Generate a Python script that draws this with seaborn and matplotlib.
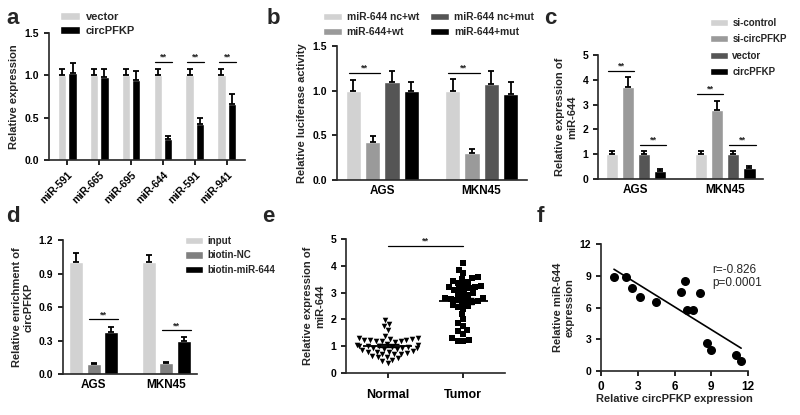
import numpy as np
import pandas as pd
import matplotlib
matplotlib.use("Agg")
import matplotlib.pyplot as plt
import seaborn as sns

# =========================
# Datos
# =========================
# (a) expresión relativa de miRNAs
a_labels = ["miR-591", "miR-665", "miR-695", "miR-644", "miR-591", "miR-941"]
a_vector = [1.0, 1.0, 1.0, 1.0, 1.0, 1.0]
a_vector_err = [0.08, 0.07, 0.08, 0.07, 0.08, 0.07]
a_circ = [1.03, 0.98, 0.95, 0.25, 0.43, 0.66]
a_circ_err = [0.11, 0.09, 0.10, 0.03, 0.07, 0.12]

# (b) actividad de luciferasa
cells = ["AGS", "MKN45"]
b_groups = ["miR-644 nc+wt", "miR-644+wt", "miR-644 nc+mut", "miR-644+mut"]
b_vals = {"miR-644 nc+wt": [1.0, 1.0], "miR-644+wt": [0.42, 0.30],
          "miR-644 nc+mut": [1.10, 1.07], "miR-644+mut": [1.0, 0.96]}
b_err = {"miR-644 nc+wt": [0.12, 0.13], "miR-644+wt": [0.07, 0.05],
         "miR-644 nc+mut": [0.12, 0.15], "miR-644+mut": [0.10, 0.14]}

# (c) expresión de miR-644
c_groups = ["si-control", "si-circPFKP", "vector", "circPFKP"]
c_vals = {"si-control": [1.0, 1.0], "si-circPFKP": [3.7, 2.8],
          "vector": [1.0, 1.0], "circPFKP": [0.33, 0.45]}
c_err = {"si-control": [0.12, 0.13], "si-circPFKP": [0.40, 0.35],
         "vector": [0.13, 0.14], "circPFKP": [0.07, 0.07]}

# (d) enriquecimiento de circPFKP
d_groups = ["input", "biotin-NC", "biotin-miR-644"]
d_vals = {"input": [1.0, 1.0], "biotin-NC": [0.09, 0.10], "biotin-miR-644": [0.38, 0.30]}
d_err = {"input": [0.08, 0.07], "biotin-NC": [0.01, 0.01], "biotin-miR-644": [0.045, 0.035]}

# (e) miR-644 en tejidos
e_normal = [1.97, 1.82, 1.75, 1.60, 1.38, 1.30, 1.30, 1.28, 1.27, 1.25, 1.25, 1.22, 1.20,
            1.20, 1.18, 1.15, 1.10, 1.05, 1.05, 1.02, 1.00, 1.00, 0.98, 0.97, 0.95, 0.95,
            0.93, 0.90, 0.88, 0.85, 0.82, 0.80, 0.80, 0.78, 0.75, 0.72, 0.70, 0.70, 0.65,
            0.60, 0.58, 0.55, 0.50, 0.45, 0.38]
e_tumor = [4.10, 3.85, 3.72, 3.58, 3.55, 3.50, 3.45, 3.40, 3.35, 3.30, 3.25, 3.20, 3.20,
           3.18, 3.15, 3.10, 3.05, 3.00, 2.95, 2.90, 2.85, 2.80, 2.78, 2.75, 2.72, 2.70,
           2.68, 2.65, 2.60, 2.55, 2.50, 2.45, 2.40, 2.20, 2.00, 1.85, 1.75, 1.60, 1.55,
           1.45, 1.30, 1.25, 1.20, 1.20]

# (f) correlación
f_x = [1.06, 2.03, 2.52, 3.22, 4.5, 6.53, 6.83, 7.02, 7.53, 8.05, 8.62, 9.02, 11.0, 11.44]
f_y = [8.92, 8.86, 7.82, 6.96, 6.52, 7.44, 8.51, 5.76, 5.76, 7.34, 2.69, 1.99, 1.49, 0.98]

grays4 = ["#d2d2d2", "#9a9a9a", "#555555", "#000000"]

sns.set_style("ticks")
plt.rcParams['font.family'] = ['Liberation Sans', 'DejaVu Sans']
plt.rcParams['font.weight'] = 'bold'
plt.rcParams['axes.labelweight'] = 'bold'
plt.rcParams['axes.linewidth'] = 1.2

W, H = 800, 415
fig = plt.figure(figsize=(8, 4.15), dpi=100)


def eje(x0, y0, x1, y1):
    return fig.add_axes([x0 / W, (H - y1) / H, (x1 - x0) / W, (y1 - y0) / H])


def estilo(ax, fs=7.5, xticks=True):
    sns.despine(ax=ax)
    ax.tick_params(axis='both', labelsize=fs, width=1.2, length=3.5, colors='black')
    if not xticks:
        ax.tick_params(axis='x', length=0)
    for t in ax.get_xticklabels() + ax.get_yticklabels():
        t.set_fontweight('bold')


def barras_error(ax, errores):
    for cont, errs in zip(ax.containers, errores):
        for bar, e in zip(cont, errs):
            x = bar.get_x() + bar.get_width() / 2
            ax.errorbar(x, bar.get_height(), yerr=[[0], [e]], fmt='none', ecolor='black',
                        elinewidth=1.3, capsize=2.5, capthick=1.3, zorder=3)


def signif(ax, b1, b2, y):
    x1 = b1.get_x() + b1.get_width() * 0.2
    x2 = b2.get_x() + b2.get_width() * 1.0
    ax.plot([x1, x2], [y, y], color='black', lw=0.9)
    ax.text((x1 + x2) / 2, y, "**", ha='center', va='bottom', fontsize=6.5)


def leyenda(ax, x, y, fs=7, ncol=1, colsp=1.0, sp=0.45):
    ax.legend(loc='upper left', bbox_to_anchor=(x / W, 1 - y / H), bbox_transform=fig.transFigure,
              frameon=False, fontsize=fs, ncol=ncol, handlelength=1.8, handleheight=0.75,
              handletextpad=0.5, labelspacing=sp, columnspacing=colsp, borderpad=0,
              borderaxespad=0)


# ---------- a ----------
ax = eje(49, 33, 245, 160)
df_a = pd.DataFrame({"idx": list(range(len(a_labels))) * 2,
                     "grupo": ["vector"] * 6 + ["circPFKP"] * 6,
                     "valor": a_vector + a_circ})
sns.barplot(data=df_a, x="idx", y="valor", hue="grupo", palette=["#d2d2d2", "#000000"],
            width=0.66, gap=0.22, errorbar=None, ax=ax)
barras_error(ax, [a_vector_err, a_circ_err])
ax.set_ylim(0, 1.5)
ax.set_yticks([0, 0.5, 1.0, 1.5])
ax.set_yticklabels(["0.0", "0.5", "1.0", "1.5"])
ax.set_xticks(range(len(a_labels)))
ax.set_xticklabels(a_labels, rotation=45, ha='right', rotation_mode='anchor')
ax.set_xlabel("")
ax.set_ylabel("Relative expression", fontsize=8)
estilo(ax)
for i in [3, 4, 5]:
    signif(ax, ax.containers[0][i], ax.containers[1][i], 1.16)
leyenda(ax, 60, 12, fs=8, sp=0.35)

# ---------- b ----------
ax = eje(337, 46, 527, 180)
df_b = pd.DataFrame([(c, g, b_vals[g][i]) for g in b_groups for i, c in enumerate(cells)],
                    columns=["celula", "grupo", "valor"])
sns.barplot(data=df_b, x="celula", y="valor", hue="grupo", hue_order=b_groups, palette=grays4,
            width=0.78, gap=0.2, errorbar=None, ax=ax)
barras_error(ax, [b_err[g] for g in b_groups])
ax.set_ylim(0, 1.5)
ax.set_yticks([0, 0.5, 1.0, 1.5])
ax.set_yticklabels(["0.0", "0.5", "1.0", "1.5"])
ax.set_xlabel("")
ax.set_ylabel("Relative luciferase activity", fontsize=8)
estilo(ax, xticks=False)
ax.tick_params(axis='x', labelsize=8.5)
for i in range(2):
    signif(ax, ax.containers[0][i], ax.containers[1][i], 1.2)
leyenda(ax, 323, 12, fs=7.4, ncol=2, colsp=1.1, sp=0.5)

# ---------- c ----------
ax = eje(598, 55, 763, 179)
df_c = pd.DataFrame([(c, g, c_vals[g][i]) for g in c_groups for i, c in enumerate(cells)],
                    columns=["celula", "grupo", "valor"])
sns.barplot(data=df_c, x="celula", y="valor", hue="grupo", hue_order=c_groups, palette=grays4,
            width=0.72, gap=0.22, errorbar=None, ax=ax)
barras_error(ax, [c_err[g] for g in c_groups])
ax.set_ylim(0, 5)
ax.set_yticks(range(6))
ax.set_xlabel("")
ax.set_ylabel("Relative expression of\nmiR-644", fontsize=8)
estilo(ax, xticks=False)
ax.tick_params(axis='x', labelsize=8.5)
signif(ax, ax.containers[0][0], ax.containers[1][0], 4.37)
signif(ax, ax.containers[2][0], ax.containers[3][0], 1.37)
signif(ax, ax.containers[0][1], ax.containers[1][1], 3.43)
signif(ax, ax.containers[2][1], ax.containers[3][1], 1.37)
leyenda(ax, 710, 18, fs=7, sp=0.65)

# ---------- d ----------
ax = eje(63, 240, 197, 374)
df_d = pd.DataFrame([(c, g, d_vals[g][i]) for g in d_groups for i, c in enumerate(cells)],
                    columns=["celula", "grupo", "valor"])
sns.barplot(data=df_d, x="celula", y="valor", hue="grupo", hue_order=d_groups,
            palette=["#d2d2d2", "#808080", "#000000"], width=0.72, gap=0.2, errorbar=None, ax=ax)
barras_error(ax, [d_err[g] for g in d_groups])
ax.set_ylim(0, 1.2)
ax.set_yticks([0, 0.3, 0.6, 0.9, 1.2])
ax.set_yticklabels(["0.0", "0.3", "0.6", "0.9", "1.2"])
ax.set_xlabel("")
ax.set_ylabel("Relative enrichment of\ncircPFKP", fontsize=8)
estilo(ax, xticks=False)
ax.tick_params(axis='x', labelsize=8.5)
signif(ax, ax.containers[1][0], ax.containers[2][0], 0.49)
signif(ax, ax.containers[1][1], ax.containers[2][1], 0.39)
leyenda(ax, 185, 236, fs=7, sp=0.45)

# ---------- e ----------
ax = eje(346, 239, 505, 373)
orden = ["Normal", "Tumor"]
df_n = pd.DataFrame({"grupo": "Normal", "valor": e_normal})
df_t = pd.DataFrame({"grupo": "Tumor", "valor": e_tumor})
sns.swarmplot(data=df_n, x="grupo", y="valor", order=orden, marker="v", color="black",
              size=4.0, ax=ax)
sns.swarmplot(data=df_t, x="grupo", y="valor", order=orden, marker="s", color="black",
              size=4.0, ax=ax)
for i, vals in enumerate([e_normal, e_tumor]):
    m = np.mean(vals)
    se = np.std(vals, ddof=1) / np.sqrt(len(vals))
    ax.hlines(m, i - 0.32, i + 0.32, color='black', lw=1.3, zorder=4)
    ax.errorbar(i, m, yerr=se, fmt='none', ecolor='black', elinewidth=1.0,
                capsize=8, capthick=1.0, zorder=4)
ax.set_xlim(-0.55, 1.55)
ax.set_ylim(0, 5)
ax.set_yticks(range(6))
ax.set_xlabel("")
ax.set_ylabel("Relative expression of\nmiR-644", fontsize=8)
estilo(ax)
ax.tick_params(axis='x', labelsize=9, pad=8)
ax.plot([0, 1], [4.75, 4.75], color='black', lw=0.9)
ax.text(0.5, 4.75, "**", ha='center', va='bottom', fontsize=6.5)

# ---------- f ----------
ax = eje(601, 244, 748, 371)
sns.regplot(x=f_x, y=f_y, ci=None, color="black", scatter_kws={"s": 30, "alpha": 1},
            line_kws={"lw": 1.2}, ax=ax)
ax.set_xlim(0, 12)
ax.set_ylim(0, 12)
ax.set_xticks([0, 3, 6, 9, 12])
ax.set_yticks([0, 3, 6, 9, 12])
ax.set_xlabel("Relative circPFKP expression", fontsize=8, labelpad=1)
ax.set_ylabel("Relative miR-644\nexpression", fontsize=8)
estilo(ax)
ax.tick_params(axis='x', labelsize=8.5)
ax.tick_params(axis='y', labelsize=7.5)
ax.text(0.76, 0.84, "r=-0.826\np=0.0001", transform=ax.transAxes, fontsize=8.5,
        fontweight='normal', va='top', linespacing=1.1)

# letras de panel
for letra, x, y in [("a", 6, 24), ("b", 267, 24), ("c", 544, 24),
                    ("d", 6, 222), ("e", 262, 222), ("f", 537, 222)]:
    fig.text(x / W, 1 - y / H, letra, fontsize=16, fontweight='bold', va='baseline')

fig.savefig("out.png", dpi=100)
